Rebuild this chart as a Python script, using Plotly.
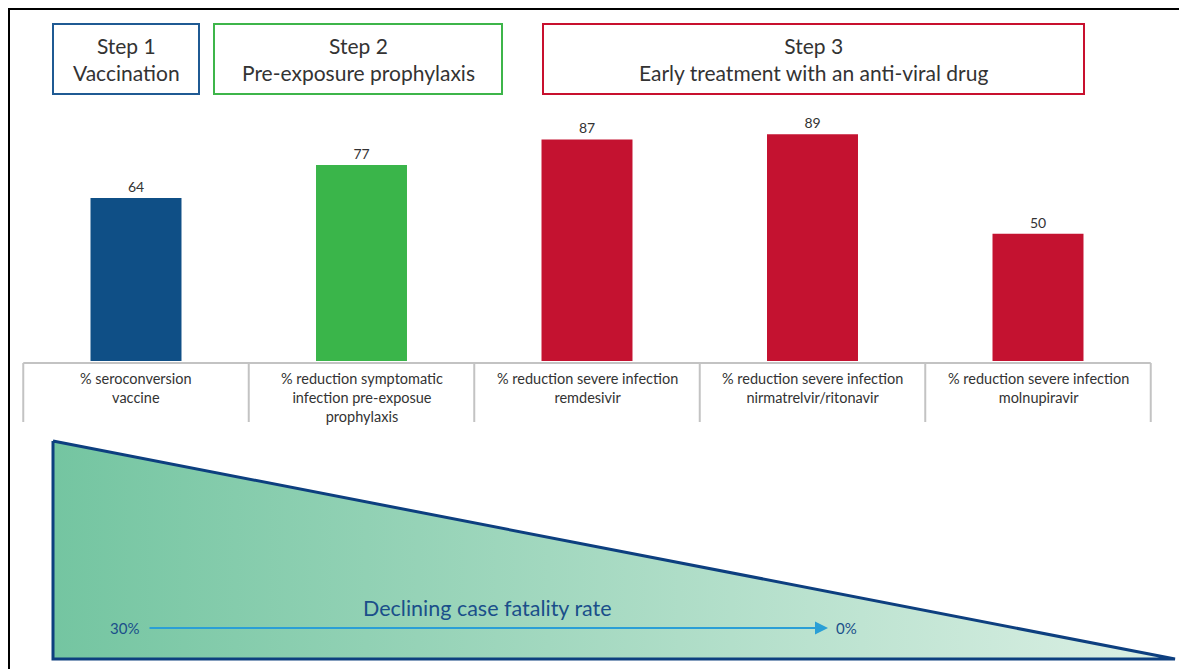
import plotly.graph_objects as go

categories = ["seroconversion", "symptomatic", "remdesivir", "nirmatrelvir", "molnupiravir"]
values = [64, 77, 87, 89, 50]
bar_colors = ["#0f4f86", "#3ab54a", "#c41230", "#c41230", "#c41230"]
cat_labels = [
    "% seroconversion<br>vaccine",
    "% reduction symptomatic<br>infection pre-exposue<br>prophylaxis",
    "% reduction severe infection<br>remdesivir",
    "% reduction severe infection<br>nirmatrelvir/ritonavir",
    "% reduction severe infection<br>molnupiravir",
]
steps = [
    ("Step 1<br>Vaccination", "#1f5a93", 53, 199),
    ("Step 2<br>Pre-exposure prophylaxis", "#3db54a", 214, 502),
    ("Step 3<br>Early treatment with an anti-viral drug", "#c8102e", 543, 1084),
]
W, H = 1179, 669
FONT = "Lato"

fig = go.Figure()
fig.add_trace(go.Bar(
    x=categories, y=values, marker=dict(color=bar_colors, line=dict(width=0)),
    width=0.4035, text=values, textposition="outside",
    textfont=dict(size=14, color="#333333", family=FONT), cliponaxis=False,
    hoverinfo="skip",
))

# triangle with gradient (page-pixel axes)
fig.add_trace(go.Scatter(
    x=[53, 53, 1175, 53], y=[441, 659, 659, 441], mode="lines", fill="toself",
    line=dict(color="#0d3f7f", width=3),
    fillgradient=dict(type="horizontal", colorscale=[[0, "#74c5a1"], [1, "#dcf0e5"]]),
    xaxis="x2", yaxis="y2", hoverinfo="skip", showlegend=False,
))

fig.update_layout(
    width=W, height=H, margin=dict(l=0, r=0, t=0, b=0),
    paper_bgcolor="white", plot_bgcolor="rgba(0,0,0,0)", showlegend=False,
    xaxis=dict(range=[(0 - 136) / 225.5, (W - 136) / 225.5], visible=False, fixedrange=True),
    yaxis=dict(range=[-(H - 361) / 2.547, 361 / 2.547], visible=False, fixedrange=True),
    xaxis2=dict(range=[0, W], overlaying="x", visible=False, fixedrange=True),
    yaxis2=dict(range=[H, 0], overlaying="y", visible=False, fixedrange=True),
    font=dict(family=FONT, color="#333333"),
)

shapes = []
annotations = []
# step boxes
for label, col, x0, x1 in steps:
    shapes.append(dict(type="rect", xref="x2", yref="y2", x0=x0, x1=x1, y0=24, y1=94,
                       line=dict(color=col, width=2), fillcolor="rgba(0,0,0,0)"))
    annotations.append(dict(xref="x2", yref="y2", x=(x0 + x1) / 2, y=59, text=label,
                            showarrow=False, font=dict(size=21, color="#333333", family=FONT),
                            xanchor="center", yanchor="middle"))
# category label grid
shapes.append(dict(type="line", xref="x", yref="y2", x0=-0.5, x1=4.5, y0=363, y1=363,
                   line=dict(color="#c3c3c3", width=2)))
for i in range(len(categories) + 1):
    shapes.append(dict(type="line", xref="x", yref="y2", x0=i - 0.5, x1=i - 0.5, y0=363, y1=422,
                       line=dict(color="#c3c3c3", width=2)))
for i, lab in enumerate(cat_labels):
    annotations.append(dict(xref="x", yref="y2", x=i, y=368, text=lab, showarrow=False,
                            xanchor="center", yanchor="top",
                            font=dict(size=14.5, color="#333333", family=FONT)))
# frame lines
shapes.append(dict(type="line", xref="x2", yref="y2", x0=8, x1=W, y0=9, y1=9,
                   line=dict(color="black", width=2)))
shapes.append(dict(type="line", xref="x2", yref="y2", x0=9, x1=9, y0=8, y1=H,
                   line=dict(color="black", width=2)))
# arrow and texts
annotations.append(dict(xref="x2", yref="y2", axref="x2", ayref="y2", x=828, y=628, ax=148, ay=628,
                        text="", showarrow=True, arrowhead=2, arrowsize=1.3, arrowwidth=2,
                        arrowcolor="#2a9fd6"))
annotations.append(dict(xref="x2", yref="y2", x=141, y=628, text="30%", showarrow=False,
                        xanchor="right", yanchor="middle", font=dict(size=15, color="#1a4f8a", family=FONT)))
annotations.append(dict(xref="x2", yref="y2", x=834, y=628, text="0%", showarrow=False,
                        xanchor="left", yanchor="middle", font=dict(size=15, color="#1a4f8a", family=FONT)))
annotations.append(dict(xref="x2", yref="y2", x=487, y=608, text="Declining case fatality rate",
                        showarrow=False, xanchor="center", yanchor="middle",
                        font=dict(size=21.5, color="#1a4f8a", family=FONT)))

fig.update_layout(shapes=shapes, annotations=annotations)
fig.write_html("out.html", default_width=f"{W}px", default_height=f"{H}px",
               config={"displayModeBar": False},
               post_script="document.body.style.margin='0';document.documentElement.style.overflow='hidden';")
